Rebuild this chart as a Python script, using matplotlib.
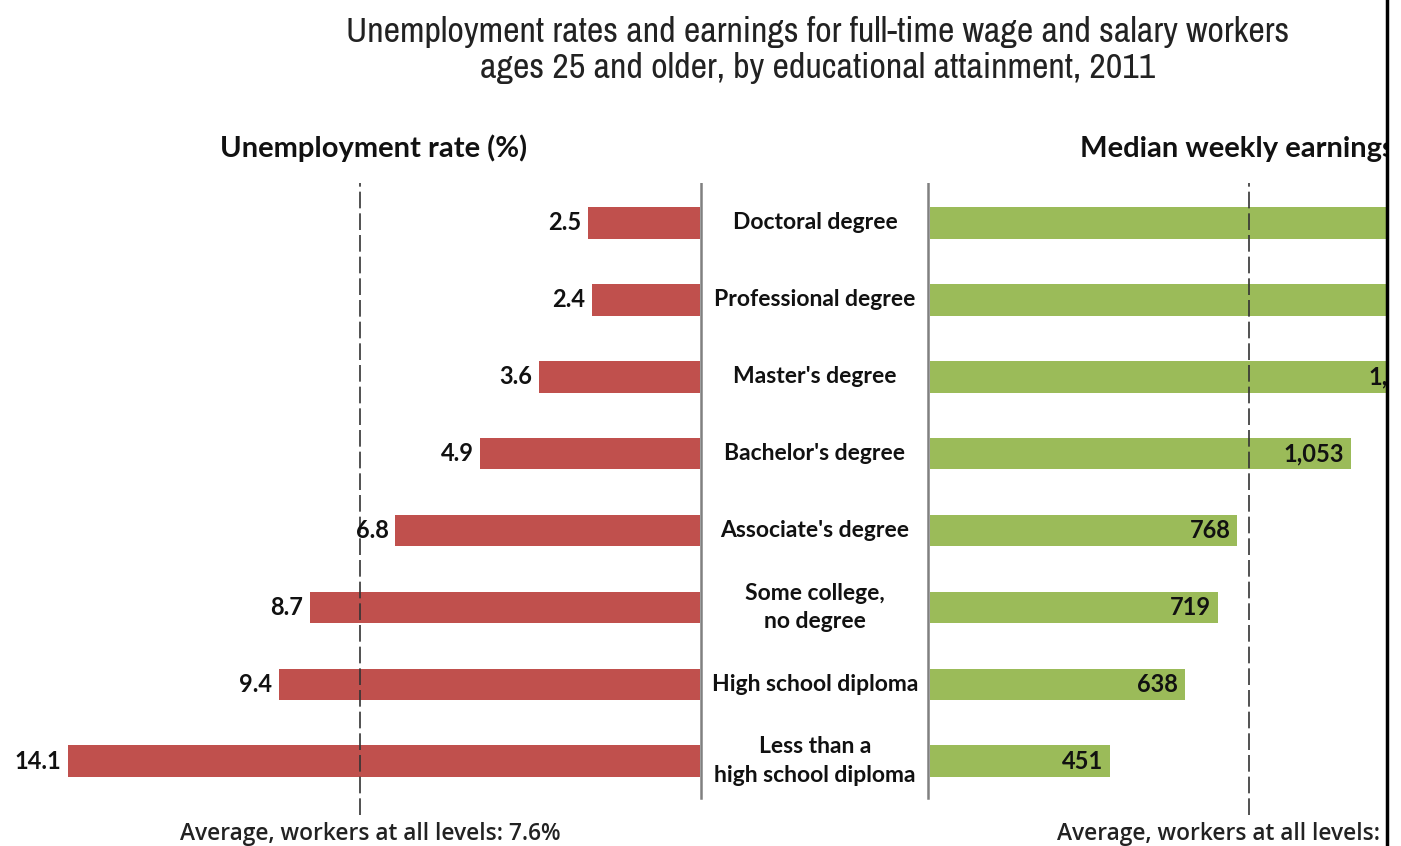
import matplotlib
matplotlib.use("Agg")
import matplotlib.pyplot as plt
from matplotlib import font_manager
from matplotlib.patches import Rectangle
from matplotlib.lines import Line2D

# ---- data ----
categories = ["Doctoral degree", "Professional degree", "Master's degree",
              "Bachelor's degree", "Associate's degree",
              "Some college,\nno degree", "High school diploma",
              "Less than a\nhigh school diploma"]
unemployment = [2.5, 2.4, 3.6, 4.9, 6.8, 8.7, 9.4, 14.1]
earnings = [1551, 1665, 1263, 1053, 768, 719, 638, 451]
avg_unemployment = 7.6
avg_earnings = 797

title = ("Unemployment rates and earnings for full-time wage and salary workers\n"
         "ages 25 and older, by educational attainment, 2011")
left_label = "Unemployment rate (%)"
right_label = "Median weekly earnings ($)"
left_note = "Average, workers at all levels: 7.6%"
right_note = "Average, workers at all levels: $797"

RED = "#C0504D"
GREEN = "#9BBB59"
W, H = 1401, 846

# pick a condensed font for the title if one is installed
cond = None
for f in font_manager.fontManager.ttflist:
    if "Narrow" in f.name or "Condensed" in f.name:
        cond = dict(family=f.name)
        break
    if f.name == "DejaVu Sans" and str(f.stretch) in ("condensed", "semi-condensed"):
        cond = dict(family="DejaVu Sans", stretch="condensed")
if cond is None:
    cond = dict(family="DejaVu Sans")

fig = plt.figure(figsize=(W / 100, H / 100), dpi=100)
fig.patch.set_facecolor("white")

top_px, bot_px = 183, 815
b = 1 - bot_px / H
h = (bot_px - top_px) / H
ylim = (7.70, -0.52)
rows = list(range(len(categories)))
bar_h = 0.41
LBL = dict(fontsize=17, fontweight="bold", family="Lato", color="#111111")

# left panel
axL = fig.add_axes([0, b, 700 / W, h])
axL.barh(rows, unemployment, height=bar_h, color=RED)
axL.set_xlim(700 / 44.8, 0)
axL.set_ylim(*ylim)
axL.axvline(avg_unemployment, color="#333333", lw=1.2, dashes=(10, 3), zorder=3)
for r, v in zip(rows, unemployment):
    axL.annotate(f"{v}", (v, r), xytext=(-5, 0), textcoords="offset points",
                 ha="right", va="center", **LBL)
axL.axis("off")

# middle panel
axM = fig.add_axes([700 / W, b, 230 / W, h])
axM.set_xlim(0, 1)
axM.set_ylim(*ylim)
for r, c in zip(rows, categories):
    axM.text(0.5, r, c, ha="center", va="center", fontsize=16.5,
             fontweight="bold", family="Lato", color="#111111", linespacing=1.45)
fr = (bot_px - 798) / (bot_px - top_px)
axM.axvline(0.005, ymin=fr, ymax=1, color="#808080", lw=1.8)
axM.axvline(0.9913, ymin=fr, ymax=1, color="#808080", lw=1.8)
axM.axis("off")

# right panel
axR = fig.add_axes([930 / W, b, 820 / W, h])
axR.barh(rows, earnings, height=bar_h, color=GREEN)
axR.set_xlim(0, 820 / 0.4)
axR.set_ylim(*ylim)
axR.axvline(avg_earnings, color="#333333", lw=1.2, dashes=(10, 3), zorder=3)
for r, v in zip(rows, earnings):
    axR.annotate(f"{v:,}", (v, r), xytext=(-5, 0), textcoords="offset points",
                 ha="right", va="center", **LBL)
axR.axis("off")

# texts
t = fig.text(818 / W, 1 - 50 / H, title, ha="center", va="center", fontsize=23,
             color="#222222", linespacing=1.18, fontweight="bold", **cond)
fig.canvas.draw()
wpx = t.get_window_extent().width
t.set_fontsize(23 * 943 / wpx)

fig.text(220 / W, 1 - 148 / H, left_label, ha="left", va="center", fontsize=21,
         fontweight="bold", family="Lato", color="#111111")
fig.text(1080 / W, 1 - 148 / H, right_label, ha="left", va="center", fontsize=21,
         fontweight="bold", family="Lato", color="#111111")
fig.text(180 / W, 1 - 834 / H, left_note, ha="left", va="center", fontsize=16.4,
         family="Open Sans", fontweight="semibold", color="#222222")
fig.text(1057 / W, 1 - 834 / H, right_note, ha="left", va="center", fontsize=16.4,
         family="Open Sans", fontweight="semibold", color="#222222")

# cropped right edge, as in the reference
fig.add_artist(Rectangle((1388 / W, 0), 1, 1, transform=fig.transFigure,
                         facecolor="white", edgecolor="none", zorder=50))
fig.add_artist(Line2D([1387 / W, 1387 / W], [0, 1], transform=fig.transFigure,
                      color="black", lw=2.5, zorder=51))

fig.savefig("out.png", dpi=100, facecolor="white")
